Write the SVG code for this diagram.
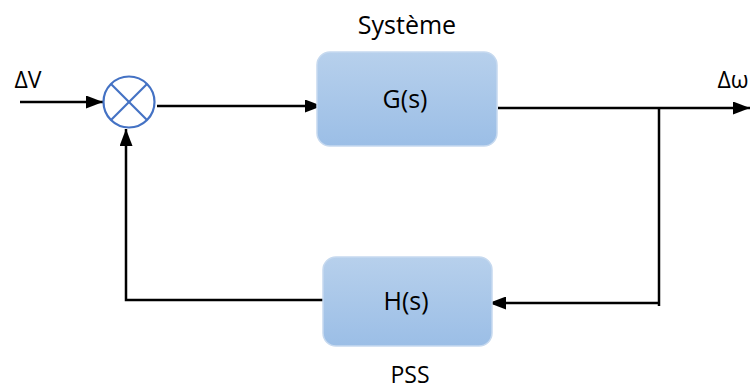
<svg xmlns="http://www.w3.org/2000/svg" width="752" height="390" viewBox="0 0 752 390">
  <defs>
    <linearGradient id="boxFill" x1="0" y1="0" x2="0" y2="1">
      <stop offset="0" stop-color="#b7d0ec"/>
      <stop offset="1" stop-color="#9bbee6"/>
    </linearGradient>
    <marker id="arrow" viewBox="0 0 17 13" refX="17" refY="6.5" markerWidth="17" markerHeight="13" markerUnits="userSpaceOnUse" orient="auto">
      <path d="M0,0 L17,6.5 L0,13 Z" fill="#000"/>
    </marker>
  </defs>
  <style>
    .block { fill: url(#boxFill); stroke: #c6d9ef; stroke-width: 1.5; }
    .label { font-family: "Open Sans", "Liberation Sans", sans-serif; fill: #000; text-anchor: middle; }
    .wire { fill: none; stroke: #000; stroke-width: 2.5; }
    .sum { fill: #fff; stroke: #4472c4; stroke-width: 2.2; }
  </style>

  <!-- connectors -->
  <g id="connectors">
    <line class="wire" x1="20" y1="102" x2="103" y2="102" marker-end="url(#arrow)"/>
    <line class="wire" x1="157" y1="106" x2="322" y2="106" marker-end="url(#arrow)"/>
    <line class="wire" x1="498" y1="108" x2="750" y2="108" marker-end="url(#arrow)"/>
    <polyline class="wire" points="659,108 659,306"/>
    <line class="wire" x1="659" y1="303" x2="489" y2="303" marker-end="url(#arrow)"/>
    <polyline class="wire" points="329,300 126,300 126,129" marker-end="url(#arrow)"/>
  </g>

  <!-- input / output signals -->
  <text class="label" x="28" y="88" font-size="23">ΔV</text>
  <text class="label" x="733" y="88" font-size="23">Δω</text>

  <!-- summing junction -->
  <g id="sum">
    <circle class="sum" cx="129" cy="102" r="25.5"/>
    <line x1="111" y1="84" x2="147" y2="120" stroke="#4472c4" stroke-width="2.2"/>
    <line x1="147" y1="84" x2="111" y2="120" stroke="#4472c4" stroke-width="2.2"/>
  </g>

  <!-- plant -->
  <g id="systeme">
    <rect class="block" x="317" y="52" width="180" height="94" rx="13"/>
    <text class="label" x="405" y="108" font-size="25">G(s)</text>
    <text class="label" x="407" y="34" font-size="25">Système</text>
  </g>

  <!-- stabiliser -->
  <g id="pss">
    <rect class="block" x="323" y="257" width="169" height="89" rx="13"/>
    <text class="label" x="406" y="310" font-size="25">H(s)</text>
    <text class="label" x="410" y="383" font-size="23">PSS</text>
  </g>
</svg>
